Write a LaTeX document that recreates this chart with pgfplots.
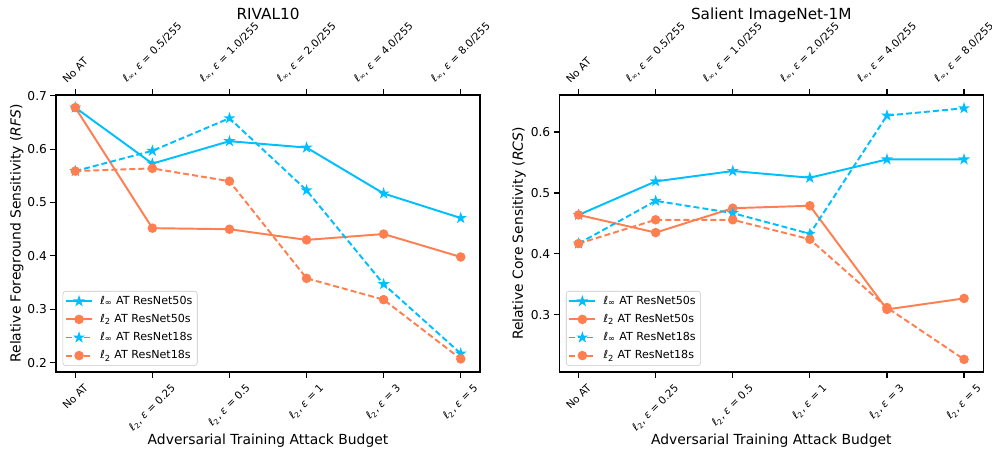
\documentclass[border=0pt]{standalone}
\usepackage{fontspec}
\setmainfont{DejaVu Sans}
\usepackage{graphicx}
\usepackage{pgfplots}
\pgfplotsset{compat=1.18}

\definecolor{cblue}{HTML}{00BFFF}
\definecolor{corange}{HTML}{FF7F50}

\pgfdeclareplotmark{fstar}{%
  \pgfpathmoveto{\pgfpointpolar{90}{\pgfplotmarksize}}%
  \pgfpathlineto{\pgfpointpolar{126}{0.382\pgfplotmarksize}}%
  \pgfpathlineto{\pgfpointpolar{162}{\pgfplotmarksize}}%
  \pgfpathlineto{\pgfpointpolar{198}{0.382\pgfplotmarksize}}%
  \pgfpathlineto{\pgfpointpolar{234}{\pgfplotmarksize}}%
  \pgfpathlineto{\pgfpointpolar{270}{0.382\pgfplotmarksize}}%
  \pgfpathlineto{\pgfpointpolar{306}{\pgfplotmarksize}}%
  \pgfpathlineto{\pgfpointpolar{342}{0.382\pgfplotmarksize}}%
  \pgfpathlineto{\pgfpointpolar{18}{\pgfplotmarksize}}%
  \pgfpathlineto{\pgfpointpolar{54}{0.382\pgfplotmarksize}}%
  \pgfpathclose\pgfusepathqfillstroke}

\newcommand{\li}{\textit{ℓ}\textsubscript{∞}}
\newcommand{\lt}{\textit{ℓ}\textsubscript{2}}
\newcommand{\eps}{\textit{ε}}
\newcommand{\rot}[1]{\rotatebox{45}{#1}}

\pgfplotsset{
  geom/.style={
    scale only axis, width=305.28pt, height=199.44pt,
    xmin=-0.25, xmax=5.25, xtick={0,1,2,3,4,5},
    tick align=outside, major tick length=4pt,
    axis line style={line width=0.8pt},
    every tick/.style={black, line width=0.8pt},
  },
  mainax/.style={
    geom,
    xtick pos=bottom, ytick pos=left,
    xticklabels={\rot{No AT},\rot{\lt, \eps\ = 0.25},\rot{\lt, \eps\ = 0.5},\rot{\lt, \eps\ = 1},\rot{\lt, \eps\ = 3},\rot{\lt, \eps\ = 5}},
    xticklabel style={anchor=north, font=\fontsize{7.5}{8.5}\selectfont, yshift=-0.5pt},
    yticklabel style={font=\fontsize{8.8}{10}\selectfont, xshift=1pt},
    /pgf/number format/assume math mode=true,
    xlabel={Adversarial Training Attack Budget},
    xlabel style={at={(axis description cs:0.5,0)}, anchor=base, yshift=-52pt, font=\fontsize{10}{12}\selectfont},
    title style={at={(axis description cs:0.5,1)}, anchor=base, yshift=48.5pt, font=\fontsize{11}{13}\selectfont},
    legend style={at={(axis description cs:0,0)}, anchor=south west, xshift=4.8pt, yshift=4.4pt,
      draw=black!22, rounded corners=2pt, fill=white, font=\fontsize{8}{9}\selectfont,
      inner sep=1.5pt, row sep=1.6pt},
    legend cell align=left,
    legend image code/.code={\draw[mark repeat=2,mark phase=2] plot coordinates {(0pt,0pt) (9.4pt,0pt) (18.7pt,0pt)};\path (22pt,0pt);},
    every axis plot/.append style={line width=1.4pt},
  },
  topax/.style={
    geom, ymin=0, ymax=1,
    axis x line*=top, hide y axis,
    xticklabels={\rot{No AT},\rot{\li, \eps\ = 0.5/255},\rot{\li, \eps\ = 1.0/255},\rot{\li, \eps\ = 2.0/255},\rot{\li, \eps\ = 4.0/255},\rot{\li, \eps\ = 8.0/255}},
    xticklabel style={anchor=south, font=\fontsize{7.5}{8.5}\selectfont, yshift=0.5pt},
  },
  s50inf/.style={cblue, solid, mark=fstar, mark size=2.3pt},
  s50two/.style={corange, solid, mark=*, mark size=2.7pt},
  s18inf/.style={cblue, dash pattern=on 4.3pt off 2.2pt, mark=fstar, mark size=2.3pt, mark options={solid}},
  s18two/.style={corange, dash pattern=on 4.3pt off 2.2pt, mark=*, mark size=2.7pt, mark options={solid}},
}

\begin{document}
\begin{tikzpicture}
\path[use as bounding box] (0,0) rectangle (714.24pt,324pt);

% ---------- RIVAL10 ----------
\begin{axis}[mainax, at={(40.32pt,56.16pt)}, anchor=south west,
  ymin=0.1824, ymax=0.7016,
  ytick={0.2,0.3,0.4,0.5,0.6,0.7}, yticklabels={0.2,0.3,0.4,0.5,0.6,0.7},
  title={RIVAL10},
  ylabel={Relative Foreground Sensitivity (\textit{RFS})},
  ylabel style={at={([xshift=-25.5pt]axis description cs:0,0.5)}, anchor=base, font=\fontsize{10}{12}\selectfont},
]
\addplot[s50inf] coordinates {(0,0.678) (1,0.573) (2,0.615) (3,0.603) (4,0.517) (5,0.471)};
\addlegendentry{\li\ AT ResNet50s}
\addplot[s50two] coordinates {(0,0.678) (1,0.452) (2,0.450) (3,0.430) (4,0.441) (5,0.398)};
\addlegendentry{\lt\ AT ResNet50s}
\addplot[s18inf] coordinates {(0,0.559) (1,0.597) (2,0.658) (3,0.523) (4,0.347) (5,0.217)};
\addlegendentry{\li\ AT ResNet18s}
\addplot[s18two] coordinates {(0,0.559) (1,0.564) (2,0.540) (3,0.358) (4,0.318) (5,0.207)};
\addlegendentry{\lt\ AT ResNet18s}
\end{axis}
\begin{axis}[topax, at={(40.32pt,56.16pt)}, anchor=south west]
\end{axis}

% ---------- Salient ImageNet-1M ----------
\begin{axis}[mainax, at={(402.7pt,56.16pt)}, anchor=south west,
  ymin=0.2063, ymax=0.6607,
  ytick={0.3,0.4,0.5,0.6}, yticklabels={0.3,0.4,0.5,0.6},
  title={Salient ImageNet-1M},
  ylabel={Relative Core Sensitivity (\textit{RCS})},
  ylabel style={at={([xshift=-26.3pt]axis description cs:0,0.5)}, anchor=base, font=\fontsize{10}{12}\selectfont},
]
\addplot[s50inf] coordinates {(0,0.464) (1,0.519) (2,0.536) (3,0.525) (4,0.555) (5,0.555)};
\addlegendentry{\li\ AT ResNet50s}
\addplot[s50two] coordinates {(0,0.464) (1,0.435) (2,0.475) (3,0.479) (4,0.309) (5,0.327)};
\addlegendentry{\lt\ AT ResNet50s}
\addplot[s18inf] coordinates {(0,0.417) (1,0.487) (2,0.467) (3,0.433) (4,0.627) (5,0.639)};
\addlegendentry{\li\ AT ResNet18s}
\addplot[s18two] coordinates {(0,0.417) (1,0.456) (2,0.456) (3,0.424) (4,0.312) (5,0.227)};
\addlegendentry{\lt\ AT ResNet18s}
\end{axis}
\begin{axis}[topax, at={(402.7pt,56.16pt)}, anchor=south west]
\end{axis}
\end{tikzpicture}
\end{document}
